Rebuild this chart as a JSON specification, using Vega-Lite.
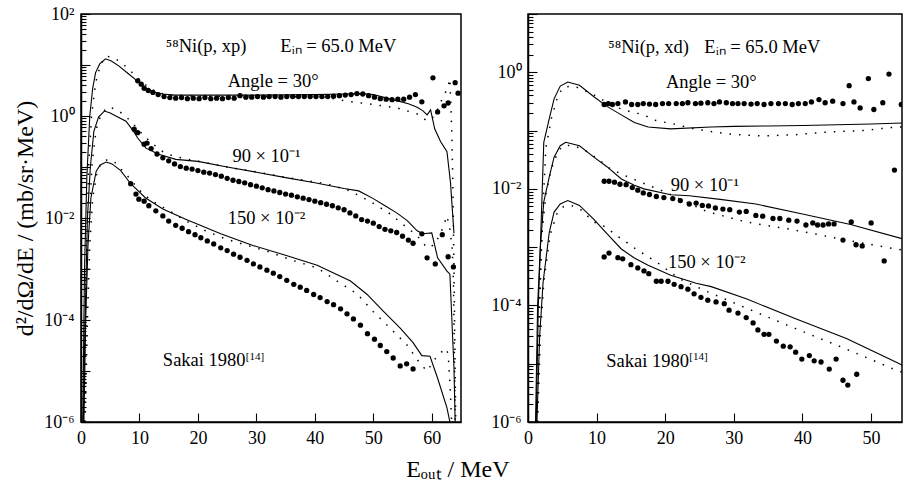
{
"$schema":"https://vega.github.io/schema/vega-lite/v6.json",
"padding":{"left":12,"top":4,"right":0,"bottom":0},
"background":"white",
"config":{"font":"Liberation Serif","view":{"stroke":"black","strokeWidth":1.5},
"axis":{"domainColor":"black","tickColor":"black","labelColor":"black","titleColor":"black","labelFont":"Liberation Serif","titleFont":"Liberation Serif","labelFontSize":18,"titleFontSize":24,"titleFontWeight":"normal","grid":false,"domainWidth":1.5,"tickWidth":1.1,"labelOverlap":false,"labelFlush":false,"labelBound":false},
"title":{"font":"Liberation Serif","fontWeight":"normal","color":"black"}},
"title":{"text":"Eₒᵤₜ / MeV","orient":"bottom","anchor":"middle","fontSize":24,"offset":10},
"spacing":27,
"datasets":{
"L":[
{"a":30,"t":"s","E":0.3,"v":1e-6},{"a":30,"t":"s","E":0.6,"v":1e-3},{"a":30,"t":"s","E":1.0,"v":0.063},{"a":30,"t":"s","E":1.5,"v":1},{"a":30,"t":"s","E":2.0,"v":3.5},{"a":30,"t":"s","E":2.5,"v":7.1},{"a":30,"t":"s","E":3.2,"v":10.5},{"a":30,"t":"s","E":4.2,"v":13.2},{"a":30,"t":"s","E":5.2,"v":12},{"a":30,"t":"s","E":6.5,"v":9.5},{"a":30,"t":"s","E":8,"v":6.9},{"a":30,"t":"s","E":9.5,"v":5.0},{"a":30,"t":"s","E":11,"v":3.6},{"a":30,"t":"s","E":12.5,"v":2.95},{"a":30,"t":"s","E":14,"v":2.7},{"a":30,"t":"s","E":16,"v":2.57},{"a":30,"t":"s","E":20,"v":2.57},{"a":30,"t":"s","E":25,"v":2.57},{"a":30,"t":"s","E":30,"v":2.57},{"a":30,"t":"s","E":35,"v":2.6},{"a":30,"t":"s","E":40,"v":2.63},{"a":30,"t":"s","E":45,"v":2.7},{"a":30,"t":"s","E":48,"v":2.75},{"a":30,"t":"s","E":50,"v":2.63},{"a":30,"t":"s","E":52,"v":2.29},{"a":30,"t":"s","E":54,"v":2.0},{"a":30,"t":"s","E":56,"v":1.74},{"a":30,"t":"s","E":57.5,"v":1.48},{"a":30,"t":"s","E":58.5,"v":1.26},{"a":30,"t":"s","E":59.2,"v":1.05},{"a":30,"t":"s","E":59.8,"v":1.32},{"a":30,"t":"s","E":60.5,"v":0.56},{"a":30,"t":"s","E":61.5,"v":0.316},{"a":30,"t":"s","E":62.6,"v":0.2},{"a":30,"t":"s","E":63.2,"v":0.05},{"a":30,"t":"s","E":63.8,"v":0.005},
{"a":30,"t":"d","E":0.5,"v":1e-6},{"a":30,"t":"d","E":0.9,"v":1e-3},{"a":30,"t":"d","E":1.3,"v":0.1},{"a":30,"t":"d","E":1.8,"v":1.0},{"a":30,"t":"d","E":2.5,"v":4.5},{"a":30,"t":"d","E":3.3,"v":10},{"a":30,"t":"d","E":4.3,"v":15},{"a":30,"t":"d","E":5.5,"v":14},{"a":30,"t":"d","E":7,"v":11},{"a":30,"t":"d","E":8.5,"v":7.6},{"a":30,"t":"d","E":10,"v":5.2},{"a":30,"t":"d","E":11.5,"v":3.7},{"a":30,"t":"d","E":13,"v":2.9},{"a":30,"t":"d","E":15,"v":2.6},{"a":30,"t":"d","E":20,"v":2.45},{"a":30,"t":"d","E":25,"v":2.42},{"a":30,"t":"d","E":30,"v":2.4},{"a":30,"t":"d","E":35,"v":2.4},{"a":30,"t":"d","E":40,"v":2.35},{"a":30,"t":"d","E":42,"v":2.3},{"a":30,"t":"d","E":45.5,"v":1.95},{"a":30,"t":"d","E":49,"v":1.74},{"a":30,"t":"d","E":54,"v":1.45},{"a":30,"t":"d","E":57.5,"v":1.1},{"a":30,"t":"d","E":59.2,"v":0.8},{"a":30,"t":"d","E":60.5,"v":1.0},{"a":30,"t":"d","E":61.8,"v":2.2},{"a":30,"t":"d","E":62.7,"v":3.5},{"a":30,"t":"d","E":63.1,"v":5.4},{"a":30,"t":"d","E":63.4,"v":0.6},{"a":30,"t":"d","E":63.6,"v":0.05},{"a":30,"t":"d","E":63.8,"v":1e-3},{"a":30,"t":"d","E":64,"v":1e-5},{"a":30,"t":"d","E":64.1,"v":1e-6},
{"a":30,"t":"x","E":9.7,"v":4.9},{"a":30,"t":"x","E":10.3,"v":4.2},{"a":30,"t":"x","E":10.8,"v":3.5},{"a":30,"t":"x","E":11.5,"v":3.16},{"a":30,"t":"x","E":12.3,"v":2.9},{"a":30,"t":"x","E":13.2,"v":2.63},{"a":30,"t":"x","E":14.2,"v":2.4},{"a":30,"t":"x","E":15.2,"v":2.3},{"a":30,"t":"x","E":16.2,"v":2.24},{"a":30,"t":"x","E":17.2,"v":2.3},{"a":30,"t":"x","E":18.2,"v":2.19},{"a":30,"t":"x","E":19.2,"v":2.24},{"a":30,"t":"x","E":20.2,"v":2.19},{"a":30,"t":"x","E":21.2,"v":2.3},{"a":30,"t":"x","E":22.2,"v":2.19},{"a":30,"t":"x","E":23.2,"v":2.24},{"a":30,"t":"x","E":24.2,"v":2.19},{"a":30,"t":"x","E":25.2,"v":2.3},{"a":30,"t":"x","E":26.2,"v":2.24},{"a":30,"t":"x","E":27.2,"v":2.5},{"a":30,"t":"x","E":28.2,"v":2.34},{"a":30,"t":"x","E":29.2,"v":2.34},{"a":30,"t":"x","E":30.2,"v":2.4},{"a":30,"t":"x","E":31.2,"v":2.34},{"a":30,"t":"x","E":32.2,"v":2.4},{"a":30,"t":"x","E":33.2,"v":2.4},{"a":30,"t":"x","E":34.2,"v":2.34},{"a":30,"t":"x","E":35.2,"v":2.4},{"a":30,"t":"x","E":36.2,"v":2.4},{"a":30,"t":"x","E":37.2,"v":2.4},{"a":30,"t":"x","E":38.2,"v":2.4},{"a":30,"t":"x","E":39.2,"v":2.4},{"a":30,"t":"x","E":40.2,"v":2.4},{"a":30,"t":"x","E":41.2,"v":2.4},{"a":30,"t":"x","E":42.2,"v":2.4},{"a":30,"t":"x","E":43.2,"v":2.45},{"a":30,"t":"x","E":44.2,"v":2.5},{"a":30,"t":"x","E":45.2,"v":2.57},{"a":30,"t":"x","E":46.2,"v":2.63},{"a":30,"t":"x","E":47.2,"v":2.75},{"a":30,"t":"x","E":48.2,"v":2.7},{"a":30,"t":"x","E":49.2,"v":2.5},{"a":30,"t":"x","E":50.2,"v":2.34},{"a":30,"t":"x","E":51.2,"v":2.19},{"a":30,"t":"x","E":52.2,"v":2.14},{"a":30,"t":"x","E":53.2,"v":2.09},{"a":30,"t":"x","E":54.2,"v":2.14},{"a":30,"t":"x","E":55.2,"v":2.14},{"a":30,"t":"x","E":56.2,"v":2.34},{"a":30,"t":"x","E":57.2,"v":2.63},{"a":30,"t":"x","E":58.3,"v":1.9},{"a":30,"t":"x","E":60.2,"v":5.6},{"a":30,"t":"x","E":61,"v":1.2},{"a":30,"t":"x","E":62.1,"v":1.58},{"a":30,"t":"x","E":62.8,"v":1.8},{"a":30,"t":"x","E":64.0,"v":4.5},{"a":30,"t":"x","E":64.5,"v":2.8},
{"a":90,"t":"s","E":0.4,"v":1e-6},{"a":90,"t":"s","E":0.7,"v":1e-4},{"a":90,"t":"s","E":1.1,"v":0.01},{"a":90,"t":"s","E":1.6,"v":0.1},{"a":90,"t":"s","E":2.2,"v":0.5},{"a":90,"t":"s","E":3.0,"v":0.95},{"a":90,"t":"s","E":4.0,"v":1.25},{"a":90,"t":"s","E":5.0,"v":1.15},{"a":90,"t":"s","E":6.2,"v":0.97},{"a":90,"t":"s","E":7.7,"v":0.79},{"a":90,"t":"s","E":9.0,"v":0.5},{"a":90,"t":"s","E":9.7,"v":0.37},{"a":90,"t":"s","E":11.1,"v":0.234},{"a":90,"t":"s","E":13.3,"v":0.178},{"a":90,"t":"s","E":16.2,"v":0.141},{"a":90,"t":"s","E":20,"v":0.129},{"a":90,"t":"s","E":25,"v":0.1},{"a":90,"t":"s","E":30,"v":0.079},{"a":90,"t":"s","E":35,"v":0.062},{"a":90,"t":"s","E":40,"v":0.049},{"a":90,"t":"s","E":45,"v":0.038},{"a":90,"t":"s","E":47.5,"v":0.034},{"a":90,"t":"s","E":50,"v":0.024},{"a":90,"t":"s","E":52,"v":0.0174},{"a":90,"t":"s","E":54,"v":0.0126},{"a":90,"t":"s","E":55.8,"v":0.0089},{"a":90,"t":"s","E":57.5,"v":0.0056},{"a":90,"t":"s","E":58.5,"v":0.0049},{"a":90,"t":"s","E":60,"v":0.0051},{"a":90,"t":"s","E":61,"v":0.00166},{"a":90,"t":"s","E":62.6,"v":0.00091},{"a":90,"t":"s","E":63.1,"v":0.00079},{"a":90,"t":"s","E":63.8,"v":1.15e-5},{"a":90,"t":"s","E":64,"v":1e-6},
{"a":90,"t":"d","E":0.6,"v":1e-6},{"a":90,"t":"d","E":1.0,"v":1e-3},{"a":90,"t":"d","E":1.4,"v":0.01},{"a":90,"t":"d","E":1.9,"v":0.12},{"a":90,"t":"d","E":2.6,"v":0.55},{"a":90,"t":"d","E":3.4,"v":1.05},{"a":90,"t":"d","E":4.5,"v":1.5},{"a":90,"t":"d","E":5.6,"v":1.4},{"a":90,"t":"d","E":7.2,"v":1.1},{"a":90,"t":"d","E":8.7,"v":0.75},{"a":90,"t":"d","E":10.2,"v":0.48},{"a":90,"t":"d","E":12,"v":0.3},{"a":90,"t":"d","E":14,"v":0.2},{"a":90,"t":"d","E":16,"v":0.16},{"a":90,"t":"d","E":20,"v":0.13},{"a":90,"t":"d","E":25,"v":0.1},{"a":90,"t":"d","E":30,"v":0.08},{"a":90,"t":"d","E":35,"v":0.063},{"a":90,"t":"d","E":42,"v":0.047},{"a":90,"t":"d","E":46,"v":0.034},{"a":90,"t":"d","E":49.5,"v":0.021},{"a":90,"t":"d","E":52.9,"v":0.012},{"a":90,"t":"d","E":55,"v":0.0076},{"a":90,"t":"d","E":57.5,"v":0.0045},{"a":90,"t":"d","E":59.2,"v":0.0026},{"a":90,"t":"d","E":60.5,"v":0.003},{"a":90,"t":"d","E":61.8,"v":0.006},{"a":90,"t":"d","E":62.6,"v":0.011},{"a":90,"t":"d","E":63.1,"v":0.006},{"a":90,"t":"d","E":63.5,"v":0.0025},{"a":90,"t":"d","E":63.7,"v":0.0006},{"a":90,"t":"d","E":63.9,"v":1e-5},{"a":90,"t":"d","E":64,"v":1e-6},
{"a":90,"t":"x","E":9.1,"v":0.55},{"a":90,"t":"x","E":9.7,"v":0.47},{"a":90,"t":"x","E":10.8,"v":0.28},{"a":90,"t":"x","E":11.3,"v":0.295},{"a":90,"t":"x","E":12.0,"v":0.23},{"a":90,"t":"x","E":13.0,"v":0.18},{"a":90,"t":"x","E":14.0,"v":0.151},{"a":90,"t":"x","E":15.0,"v":0.132},{"a":90,"t":"x","E":16.0,"v":0.115},{"a":90,"t":"x","E":17.0,"v":0.102},{"a":90,"t":"x","E":18.0,"v":0.095},{"a":90,"t":"x","E":19.0,"v":0.091},{"a":90,"t":"x","E":20.0,"v":0.085},{"a":90,"t":"x","E":21.0,"v":0.079},{"a":90,"t":"x","E":22.0,"v":0.076},{"a":90,"t":"x","E":23.0,"v":0.071},{"a":90,"t":"x","E":24.0,"v":0.066},{"a":90,"t":"x","E":25.0,"v":0.06},{"a":90,"t":"x","E":26.0,"v":0.055},{"a":90,"t":"x","E":27.0,"v":0.052},{"a":90,"t":"x","E":28.0,"v":0.049},{"a":90,"t":"x","E":29.0,"v":0.045},{"a":90,"t":"x","E":30.0,"v":0.042},{"a":90,"t":"x","E":31.0,"v":0.039},{"a":90,"t":"x","E":32.0,"v":0.036},{"a":90,"t":"x","E":33.0,"v":0.034},{"a":90,"t":"x","E":34.0,"v":0.0316},{"a":90,"t":"x","E":35.0,"v":0.0295},{"a":90,"t":"x","E":36.0,"v":0.028},{"a":90,"t":"x","E":37.0,"v":0.026},{"a":90,"t":"x","E":38.0,"v":0.0245},{"a":90,"t":"x","E":39.0,"v":0.023},{"a":90,"t":"x","E":40.0,"v":0.0214},{"a":90,"t":"x","E":41.0,"v":0.02},{"a":90,"t":"x","E":42.0,"v":0.0186},{"a":90,"t":"x","E":43.0,"v":0.0174},{"a":90,"t":"x","E":44.0,"v":0.0158},{"a":90,"t":"x","E":45.0,"v":0.0145},{"a":90,"t":"x","E":46.0,"v":0.0126},{"a":90,"t":"x","E":47.0,"v":0.011},{"a":90,"t":"x","E":48.0,"v":0.0093},{"a":90,"t":"x","E":49.0,"v":0.0087},{"a":90,"t":"x","E":50.0,"v":0.0079},{"a":90,"t":"x","E":51.0,"v":0.0068},{"a":90,"t":"x","E":52.0,"v":0.006},{"a":90,"t":"x","E":53.0,"v":0.0056},{"a":90,"t":"x","E":54.0,"v":0.0052},{"a":90,"t":"x","E":55.0,"v":0.0044},{"a":90,"t":"x","E":56.0,"v":0.0037},{"a":90,"t":"x","E":56.8,"v":0.0032},{"a":90,"t":"x","E":58.3,"v":0.0049},{"a":90,"t":"x","E":59.2,"v":0.00166},{"a":90,"t":"x","E":60.6,"v":0.00126},{"a":90,"t":"x","E":61.8,"v":0.0047},{"a":90,"t":"x","E":62.8,"v":0.00174},{"a":90,"t":"x","E":63.7,"v":0.0011},
{"a":150,"t":"s","E":0.5,"v":1e-6},{"a":150,"t":"s","E":0.8,"v":1e-4},{"a":150,"t":"s","E":1.2,"v":0.003},{"a":150,"t":"s","E":1.7,"v":0.025},{"a":150,"t":"s","E":2.6,"v":0.083},{"a":150,"t":"s","E":3.3,"v":0.11},{"a":150,"t":"s","E":4.3,"v":0.125},{"a":150,"t":"s","E":5.3,"v":0.115},{"a":150,"t":"s","E":6.8,"v":0.085},{"a":150,"t":"s","E":8.5,"v":0.047},{"a":150,"t":"s","E":11,"v":0.025},{"a":150,"t":"s","E":14,"v":0.015},{"a":150,"t":"s","E":17.9,"v":0.0095},{"a":150,"t":"s","E":23.9,"v":0.0049},{"a":150,"t":"s","E":29.4,"v":0.0029},{"a":150,"t":"s","E":34.7,"v":0.0019},{"a":150,"t":"s","E":40.4,"v":0.00118},{"a":150,"t":"s","E":46.1,"v":0.00058},{"a":150,"t":"s","E":48.9,"v":0.00032},{"a":150,"t":"s","E":51.7,"v":0.00015},{"a":150,"t":"s","E":54.6,"v":6.9e-5},{"a":150,"t":"s","E":56.8,"v":3.6e-5},{"a":150,"t":"s","E":58.3,"v":2.0e-5},{"a":150,"t":"s","E":59.7,"v":1.95e-5},{"a":150,"t":"s","E":61,"v":7.2e-6},{"a":150,"t":"s","E":62.6,"v":1.9e-6},{"a":150,"t":"s","E":63.1,"v":1e-6},
{"a":150,"t":"d","E":0.7,"v":1e-6},{"a":150,"t":"d","E":1.1,"v":1e-4},{"a":150,"t":"d","E":1.5,"v":0.003},{"a":150,"t":"d","E":2.0,"v":0.025},{"a":150,"t":"d","E":2.8,"v":0.085},{"a":150,"t":"d","E":3.6,"v":0.125},{"a":150,"t":"d","E":4.6,"v":0.14},{"a":150,"t":"d","E":5.6,"v":0.13},{"a":150,"t":"d","E":6.3,"v":0.105},{"a":150,"t":"d","E":8,"v":0.066},{"a":150,"t":"d","E":10,"v":0.035},{"a":150,"t":"d","E":12,"v":0.022},{"a":150,"t":"d","E":15,"v":0.014},{"a":150,"t":"d","E":18,"v":0.0087},{"a":150,"t":"d","E":21.3,"v":0.0056},{"a":150,"t":"d","E":24.7,"v":0.0039},{"a":150,"t":"d","E":28,"v":0.003},{"a":150,"t":"d","E":32,"v":0.0022},{"a":150,"t":"d","E":36,"v":0.0015},{"a":150,"t":"d","E":40.4,"v":0.00105},{"a":150,"t":"d","E":43.8,"v":0.00058},{"a":150,"t":"d","E":47.3,"v":0.00032},{"a":150,"t":"d","E":50,"v":0.000145},{"a":150,"t":"d","E":52.9,"v":6.9e-5},{"a":150,"t":"d","E":55.8,"v":3.2e-5},{"a":150,"t":"d","E":58,"v":1.4e-5},{"a":150,"t":"d","E":59.2,"v":1e-5},{"a":150,"t":"d","E":60.7,"v":1.8e-5},{"a":150,"t":"d","E":62.3,"v":2.8e-5},{"a":150,"t":"d","E":62.8,"v":2.2e-5},{"a":150,"t":"d","E":63.1,"v":6e-6},{"a":150,"t":"d","E":63.4,"v":1e-6},
{"a":150,"t":"x","E":8.5,"v":0.047},{"a":150,"t":"x","E":9.4,"v":0.0295},{"a":150,"t":"x","E":9.9,"v":0.0234},{"a":150,"t":"x","E":10.8,"v":0.0214},{"a":150,"t":"x","E":11.6,"v":0.0174},{"a":150,"t":"x","E":12.8,"v":0.0138},{"a":150,"t":"x","E":14,"v":0.011},{"a":150,"t":"x","E":15,"v":0.0087},{"a":150,"t":"x","E":16.2,"v":0.0072},{"a":150,"t":"x","E":17.3,"v":0.0063},{"a":150,"t":"x","E":18.4,"v":0.0054},{"a":150,"t":"x","E":19.5,"v":0.0047},{"a":150,"t":"x","E":20.5,"v":0.0041},{"a":150,"t":"x","E":21.6,"v":0.00355},{"a":150,"t":"x","E":22.7,"v":0.0031},{"a":150,"t":"x","E":23.9,"v":0.0026},{"a":150,"t":"x","E":25,"v":0.0023},{"a":150,"t":"x","E":26.1,"v":0.00195},{"a":150,"t":"x","E":27.2,"v":0.0017},{"a":150,"t":"x","E":28.4,"v":0.00148},{"a":150,"t":"x","E":29.5,"v":0.00126},{"a":150,"t":"x","E":30.6,"v":0.0011},{"a":150,"t":"x","E":31.8,"v":0.00095},{"a":150,"t":"x","E":32.9,"v":0.00083},{"a":150,"t":"x","E":34,"v":0.00071},{"a":150,"t":"x","E":35.2,"v":0.0006},{"a":150,"t":"x","E":36.4,"v":0.0005},{"a":150,"t":"x","E":37.5,"v":0.00044},{"a":150,"t":"x","E":38.6,"v":0.00038},{"a":150,"t":"x","E":39.8,"v":0.000316},{"a":150,"t":"x","E":40.9,"v":0.000275},{"a":150,"t":"x","E":42.1,"v":0.00023},{"a":150,"t":"x","E":43.2,"v":0.0002},{"a":150,"t":"x","E":44.4,"v":0.000166},{"a":150,"t":"x","E":45.5,"v":0.000132},{"a":150,"t":"x","E":46.6,"v":0.000105},{"a":150,"t":"x","E":47.8,"v":7.9e-5},{"a":150,"t":"x","E":49,"v":5.4e-5},{"a":150,"t":"x","E":50.2,"v":4.2e-5},{"a":150,"t":"x","E":51.2,"v":3.16e-5},{"a":150,"t":"x","E":52.3,"v":2.4e-5},{"a":150,"t":"x","E":53.4,"v":1.8e-5},{"a":150,"t":"x","E":54.6,"v":1.26e-5},{"a":150,"t":"x","E":55.7,"v":1.38e-5},{"a":150,"t":"x","E":56.8,"v":1.1e-5}
],
"R":[
{"a":30,"t":"s","E":1.2,"v":1e-6},{"a":30,"t":"s","E":1.5,"v":1e-4},{"a":30,"t":"s","E":1.8,"v":1e-3},{"a":30,"t":"s","E":2.3,"v":0.063},{"a":30,"t":"s","E":3.1,"v":0.16},{"a":30,"t":"s","E":3.8,"v":0.35},{"a":30,"t":"s","E":4.7,"v":0.58},{"a":30,"t":"s","E":5.8,"v":0.68},{"a":30,"t":"s","E":7.5,"v":0.6},{"a":30,"t":"s","E":9.6,"v":0.38},{"a":30,"t":"s","E":11.5,"v":0.26},{"a":30,"t":"s","E":13.6,"v":0.186},{"a":30,"t":"s","E":15.5,"v":0.138},{"a":30,"t":"s","E":17.5,"v":0.115},{"a":30,"t":"s","E":20.8,"v":0.107},{"a":30,"t":"s","E":26.7,"v":0.115},{"a":30,"t":"s","E":30,"v":0.118},{"a":30,"t":"s","E":35,"v":0.12},{"a":30,"t":"s","E":40,"v":0.122},{"a":30,"t":"s","E":45,"v":0.126},{"a":30,"t":"s","E":50,"v":0.13},{"a":30,"t":"s","E":54.5,"v":0.135},
{"a":30,"t":"d","E":1.3,"v":1e-6},{"a":30,"t":"d","E":1.7,"v":1e-4},{"a":30,"t":"d","E":2.1,"v":0.003},{"a":30,"t":"d","E":2.6,"v":0.05},{"a":30,"t":"d","E":3.4,"v":0.16},{"a":30,"t":"d","E":4.4,"v":0.41},{"a":30,"t":"d","E":5.2,"v":0.56},{"a":30,"t":"d","E":6.7,"v":0.58},{"a":30,"t":"d","E":8,"v":0.5},{"a":30,"t":"d","E":9.6,"v":0.41},{"a":30,"t":"d","E":12,"v":0.28},{"a":30,"t":"d","E":14,"v":0.224},{"a":30,"t":"d","E":16.9,"v":0.186},{"a":30,"t":"d","E":18.4,"v":0.151},{"a":30,"t":"d","E":21.3,"v":0.129},{"a":30,"t":"d","E":24.2,"v":0.107},{"a":30,"t":"d","E":25.7,"v":0.1},{"a":30,"t":"d","E":29.3,"v":0.087},{"a":30,"t":"d","E":34.2,"v":0.081},{"a":30,"t":"d","E":39,"v":0.085},{"a":30,"t":"d","E":43.9,"v":0.095},{"a":30,"t":"d","E":48.8,"v":0.1},{"a":30,"t":"d","E":53.6,"v":0.115},{"a":30,"t":"d","E":54.5,"v":0.116},
{"a":30,"t":"x","E":11.1,"v":0.28},{"a":30,"t":"x","E":11.7,"v":0.29},{"a":30,"t":"x","E":12.3,"v":0.28},{"a":30,"t":"x","E":13.1,"v":0.29},{"a":30,"t":"x","E":14.2,"v":0.31},{"a":30,"t":"x","E":15.1,"v":0.28},{"a":30,"t":"x","E":16.0,"v":0.28},{"a":30,"t":"x","E":16.8,"v":0.29},{"a":30,"t":"x","E":17.7,"v":0.285},{"a":30,"t":"x","E":18.6,"v":0.28},{"a":30,"t":"x","E":19.6,"v":0.29},{"a":30,"t":"x","E":20.5,"v":0.29},{"a":30,"t":"x","E":21.6,"v":0.29},{"a":30,"t":"x","E":22.5,"v":0.29},{"a":30,"t":"x","E":23.3,"v":0.3},{"a":30,"t":"x","E":24.4,"v":0.29},{"a":30,"t":"x","E":25.2,"v":0.295},{"a":30,"t":"x","E":26.2,"v":0.3},{"a":30,"t":"x","E":27.1,"v":0.29},{"a":30,"t":"x","E":27.9,"v":0.31},{"a":30,"t":"x","E":28.9,"v":0.3},{"a":30,"t":"x","E":29.8,"v":0.29},{"a":30,"t":"x","E":30.6,"v":0.29},{"a":30,"t":"x","E":31.5,"v":0.29},{"a":30,"t":"x","E":32.5,"v":0.285},{"a":30,"t":"x","E":33.4,"v":0.29},{"a":30,"t":"x","E":34.4,"v":0.28},{"a":30,"t":"x","E":35.4,"v":0.29},{"a":30,"t":"x","E":36.5,"v":0.29},{"a":30,"t":"x","E":37.5,"v":0.29},{"a":30,"t":"x","E":38.5,"v":0.28},{"a":30,"t":"x","E":39.4,"v":0.29},{"a":30,"t":"x","E":40.4,"v":0.29},{"a":30,"t":"x","E":41.3,"v":0.31},{"a":30,"t":"x","E":42.4,"v":0.34},{"a":30,"t":"x","E":43.3,"v":0.3},{"a":30,"t":"x","E":44.4,"v":0.32},{"a":30,"t":"x","E":45.9,"v":0.29},{"a":30,"t":"x","E":46.8,"v":0.59},{"a":30,"t":"x","E":47.5,"v":0.31},{"a":30,"t":"x","E":48.4,"v":0.245},{"a":30,"t":"x","E":49.6,"v":0.78},{"a":30,"t":"x","E":50.4,"v":0.23},{"a":30,"t":"x","E":51.7,"v":0.3},{"a":30,"t":"x","E":52.6,"v":0.93},{"a":30,"t":"x","E":54.4,"v":0.28},
{"a":90,"t":"s","E":1.1,"v":1e-6},{"a":90,"t":"s","E":1.4,"v":1e-4},{"a":90,"t":"s","E":1.8,"v":1e-3},{"a":90,"t":"s","E":2.3,"v":0.006},{"a":90,"t":"s","E":3.1,"v":0.016},{"a":90,"t":"s","E":3.8,"v":0.035},{"a":90,"t":"s","E":4.7,"v":0.055},{"a":90,"t":"s","E":5.5,"v":0.063},{"a":90,"t":"s","E":7.5,"v":0.055},{"a":90,"t":"s","E":9.6,"v":0.035},{"a":90,"t":"s","E":11.5,"v":0.024},{"a":90,"t":"s","E":13.6,"v":0.0148},{"a":90,"t":"s","E":15.5,"v":0.0115},{"a":90,"t":"s","E":16.9,"v":0.01},{"a":90,"t":"s","E":20.8,"v":0.0079},{"a":90,"t":"s","E":23.5,"v":0.0076},{"a":90,"t":"s","E":28,"v":0.0066},{"a":90,"t":"s","E":33.2,"v":0.0055},{"a":90,"t":"s","E":40,"v":0.0037},{"a":90,"t":"s","E":47,"v":0.00245},{"a":90,"t":"s","E":54.5,"v":0.0014},
{"a":90,"t":"d","E":1.2,"v":1e-6},{"a":90,"t":"d","E":1.6,"v":1e-4},{"a":90,"t":"d","E":2.0,"v":0.0015},{"a":90,"t":"d","E":2.6,"v":0.008},{"a":90,"t":"d","E":3.4,"v":0.022},{"a":90,"t":"d","E":4.4,"v":0.045},{"a":90,"t":"d","E":5.2,"v":0.055},{"a":90,"t":"d","E":6.5,"v":0.056},{"a":90,"t":"d","E":8,"v":0.048},{"a":90,"t":"d","E":10.3,"v":0.032},{"a":90,"t":"d","E":12,"v":0.022},{"a":90,"t":"d","E":13.8,"v":0.0175},{"a":90,"t":"d","E":16.8,"v":0.0125},{"a":90,"t":"d","E":20,"v":0.0088},{"a":90,"t":"d","E":23,"v":0.006},{"a":90,"t":"d","E":26,"v":0.0041},{"a":90,"t":"d","E":31.8,"v":0.0027},{"a":90,"t":"d","E":39,"v":0.00195},{"a":90,"t":"d","E":46.4,"v":0.00132},{"a":90,"t":"d","E":53.6,"v":0.00093},{"a":90,"t":"d","E":54.5,"v":0.0009},
{"a":90,"t":"x","E":11.1,"v":0.0135},{"a":90,"t":"x","E":11.8,"v":0.0135},{"a":90,"t":"x","E":12.6,"v":0.013},{"a":90,"t":"x","E":13.4,"v":0.012},{"a":90,"t":"x","E":14.3,"v":0.0118},{"a":90,"t":"x","E":15.2,"v":0.0105},{"a":90,"t":"x","E":16,"v":0.0095},{"a":90,"t":"x","E":16.8,"v":0.0085},{"a":90,"t":"x","E":17.7,"v":0.008},{"a":90,"t":"x","E":18.7,"v":0.0074},{"a":90,"t":"x","E":19.8,"v":0.0071},{"a":90,"t":"x","E":21.1,"v":0.0068},{"a":90,"t":"x","E":22.2,"v":0.0063},{"a":90,"t":"x","E":23.5,"v":0.0055},{"a":90,"t":"x","E":24.5,"v":0.0057},{"a":90,"t":"x","E":25.4,"v":0.0052},{"a":90,"t":"x","E":26.3,"v":0.0051},{"a":90,"t":"x","E":27.3,"v":0.0047},{"a":90,"t":"x","E":28.4,"v":0.0045},{"a":90,"t":"x","E":29.4,"v":0.0044},{"a":90,"t":"x","E":30.8,"v":0.004},{"a":90,"t":"x","E":31.8,"v":0.0041},{"a":90,"t":"x","E":33.2,"v":0.0035},{"a":90,"t":"x","E":34.2,"v":0.0034},{"a":90,"t":"x","E":35.7,"v":0.0031},{"a":90,"t":"x","E":36.7,"v":0.0031},{"a":90,"t":"x","E":38,"v":0.0029},{"a":90,"t":"x","E":39.2,"v":0.0028},{"a":90,"t":"x","E":40.5,"v":0.0024},{"a":90,"t":"x","E":41.5,"v":0.0026},{"a":90,"t":"x","E":42.2,"v":0.0024},{"a":90,"t":"x","E":43,"v":0.0024},{"a":90,"t":"x","E":43.8,"v":0.0025},{"a":90,"t":"x","E":44.6,"v":0.0025},{"a":90,"t":"x","E":45.9,"v":0.00132},{"a":90,"t":"x","E":47.1,"v":0.0027},{"a":90,"t":"x","E":47.8,"v":0.0011},{"a":90,"t":"x","E":48.7,"v":0.00105},{"a":90,"t":"x","E":50,"v":0.0026},{"a":90,"t":"x","E":51.9,"v":0.00058},{"a":90,"t":"x","E":53.4,"v":0.021},
{"a":150,"t":"s","E":1.3,"v":1e-6},{"a":150,"t":"s","E":1.7,"v":3e-5},{"a":150,"t":"s","E":2.2,"v":0.00025},{"a":150,"t":"s","E":3.1,"v":0.0018},{"a":150,"t":"s","E":3.8,"v":0.004},{"a":150,"t":"s","E":4.7,"v":0.0055},{"a":150,"t":"s","E":5.8,"v":0.0063},{"a":150,"t":"s","E":7.5,"v":0.0052},{"a":150,"t":"s","E":9.6,"v":0.003},{"a":150,"t":"s","E":11.5,"v":0.0017},{"a":150,"t":"s","E":13.6,"v":0.00093},{"a":150,"t":"s","E":15.5,"v":0.00065},{"a":150,"t":"s","E":17.5,"v":0.00049},{"a":150,"t":"s","E":20.8,"v":0.00033},{"a":150,"t":"s","E":24.5,"v":0.00024},{"a":150,"t":"s","E":26.7,"v":0.00021},{"a":150,"t":"s","E":31.8,"v":0.00013},{"a":150,"t":"s","E":39,"v":5.9e-5},{"a":150,"t":"s","E":46.4,"v":2.7e-5},{"a":150,"t":"s","E":53.6,"v":1.07e-5},{"a":150,"t":"s","E":54.5,"v":9.5e-6},
{"a":150,"t":"d","E":1.4,"v":1e-6},{"a":150,"t":"d","E":1.8,"v":3e-5},{"a":150,"t":"d","E":2.3,"v":0.00025},{"a":150,"t":"d","E":3.2,"v":0.0016},{"a":150,"t":"d","E":4.2,"v":0.0037},{"a":150,"t":"d","E":5.2,"v":0.005},{"a":150,"t":"d","E":6.3,"v":0.0052},{"a":150,"t":"d","E":7.8,"v":0.0043},{"a":150,"t":"d","E":9.6,"v":0.0027},{"a":150,"t":"d","E":11.4,"v":0.0022},{"a":150,"t":"d","E":12.8,"v":0.0016},{"a":150,"t":"d","E":14.3,"v":0.00123},{"a":150,"t":"d","E":15.7,"v":0.00093},{"a":150,"t":"d","E":17.2,"v":0.00072},{"a":150,"t":"d","E":18.7,"v":0.00056},{"a":150,"t":"d","E":22,"v":0.00029},{"a":150,"t":"d","E":26,"v":0.000175},{"a":150,"t":"d","E":31.8,"v":9e-5},{"a":150,"t":"d","E":39,"v":4e-5},{"a":150,"t":"d","E":46.4,"v":1.78e-5},{"a":150,"t":"d","E":53.6,"v":7.8e-6},{"a":150,"t":"d","E":54.5,"v":7.2e-6},
{"a":150,"t":"x","E":11.1,"v":0.00068},{"a":150,"t":"x","E":11.8,"v":0.00079},{"a":150,"t":"x","E":13.1,"v":0.00066},{"a":150,"t":"x","E":13.8,"v":0.00063},{"a":150,"t":"x","E":15,"v":0.0005},{"a":150,"t":"x","E":16,"v":0.00044},{"a":150,"t":"x","E":16.9,"v":0.00039},{"a":150,"t":"x","E":17.6,"v":0.00035},{"a":150,"t":"x","E":18.7,"v":0.00026},{"a":150,"t":"x","E":19.4,"v":0.00026},{"a":150,"t":"x","E":20.4,"v":0.00026},{"a":150,"t":"x","E":21.3,"v":0.00023},{"a":150,"t":"x","E":22.3,"v":0.00021},{"a":150,"t":"x","E":23.3,"v":0.00019},{"a":150,"t":"x","E":24.2,"v":0.000158},{"a":150,"t":"x","E":25.2,"v":0.000138},{"a":150,"t":"x","E":26.2,"v":0.000123},{"a":150,"t":"x","E":27.4,"v":0.000115},{"a":150,"t":"x","E":28.6,"v":0.000107},{"a":150,"t":"x","E":29.3,"v":8.3e-5},{"a":150,"t":"x","E":30.6,"v":7.4e-5},{"a":150,"t":"x","E":31.8,"v":6.2e-5},{"a":150,"t":"x","E":32.8,"v":5e-5},{"a":150,"t":"x","E":33.5,"v":3.8e-5},{"a":150,"t":"x","E":34.4,"v":3.2e-5},{"a":150,"t":"x","E":35.1,"v":3.2e-5},{"a":150,"t":"x","E":36.2,"v":2.45e-5},{"a":150,"t":"x","E":37.2,"v":2e-5},{"a":150,"t":"x","E":38.2,"v":1.95e-5},{"a":150,"t":"x","E":39,"v":1.58e-5},{"a":150,"t":"x","E":39.9,"v":1.2e-5},{"a":150,"t":"x","E":41,"v":1.38e-5},{"a":150,"t":"x","E":41.7,"v":1.12e-5},{"a":150,"t":"x","E":42.7,"v":1.07e-5},{"a":150,"t":"x","E":43.9,"v":8.1e-6},{"a":150,"t":"x","E":44.9,"v":1.2e-5},{"a":150,"t":"x","E":45.9,"v":5.2e-6},{"a":150,"t":"x","E":46.6,"v":4.3e-6},{"a":150,"t":"x","E":47.9,"v":6.6e-6}
],
"LT":[
{"k":"m","E":14.5,"v":23.5,"label":"⁵⁸Ni(p, xp)"},{"k":"m","E":34.1,"v":23.5,"label":"Eᵢₙ = 65.0 MeV"},{"k":"m","E":25.1,"v":4.9,"label":"Angle = 30°"},{"k":"m","E":25.9,"v":0.165,"label":"90 × 10⁻¹"},{"k":"m","E":25.1,"v":0.01,"label":"150 × 10⁻²"},{"k":"m","E":14,"v":1.65e-5,"label":"Sakai 1980"},{"k":"s","E":28.2,"v":1.9e-5,"label":"[14]"}
],
"RT":[
{"k":"m","E":11.7,"v":2.7,"label":"⁵⁸Ni(p, xd)"},{"k":"m","E":25.7,"v":2.7,"label":"Eᵢₙ = 65.0 MeV"},{"k":"m","E":20.1,"v":0.68,"label":"Angle = 30°"},{"k":"m","E":20.8,"v":0.0117,"label":"90 × 10⁻¹"},{"k":"m","E":20.4,"v":0.00056,"label":"150 × 10⁻²"},{"k":"m","E":11.4,"v":1.12e-5,"label":"Sakai 1980"},{"k":"s","E":23.5,"v":1.3e-5,"label":"[14]"}
]
},
"hconcat":[
{"width":380,"height":408,
"layer":[
{"data":{"name":"L"},"transform":[{"filter":"datum.t==='s'"}],"mark":{"type":"line","color":"black","strokeWidth":1.1,"clip":true},
"encoding":{
"x":{"field":"E","type":"quantitative","scale":{"domain":[0,65],"nice":false,"zero":false},"axis":{"values":[0,5,10,15,20,25,30,35,40,45,50,55,60,65],"labelExpr":"datum.value % 10 === 0 ? datum.label : ''","tickSize":{"condition":{"test":"datum.value % 10 === 0","value":-9},"value":-5},"labelPadding":16,"title":null}},
"y":{"field":"v","type":"quantitative","scale":{"type":"log","domain":[1e-6,100],"nice":false},"axis":{"values":[1e-6,2e-6,3e-6,4e-6,5e-6,6e-6,7e-6,8e-6,9e-6,1e-5,2e-5,3e-5,4e-5,5e-5,6e-5,7e-5,8e-5,9e-5,1e-4,2e-4,3e-4,4e-4,5e-4,6e-4,7e-4,8e-4,9e-4,1e-3,2e-3,3e-3,4e-3,5e-3,6e-3,7e-3,8e-3,9e-3,0.01,0.02,0.03,0.04,0.05,0.06,0.07,0.08,0.09,0.1,0.2,0.3,0.4,0.5,0.6,0.7,0.8,0.9,1,2,3,4,5,6,7,8,9,10,20,30,40,50,60,70,80,90,100],
"labelExpr":"datum.value===100?'10²':datum.value===1?'10⁰':datum.value===0.01?'10⁻²':datum.value===1e-4?'10⁻⁴':datum.value===1e-6?'10⁻⁶':''",
"tickSize":{"condition":{"test":"indexof([1e-6,1e-5,1e-4,1e-3,0.01,0.1,1,10,100],datum.value)>=0","value":-9},"value":-5},"labelPadding":16,"labelBaseline":"middle",
"title":"d²/dΩ/dE / (mb/sr·MeV)","titlePadding":6}},
"detail":{"field":"a"}}},
{"data":{"name":"L"},"transform":[{"filter":"datum.t==='d'"}],"mark":{"type":"line","color":"black","strokeWidth":1.5,"strokeDash":[1.5,8],"clip":true},
"encoding":{"x":{"field":"E","type":"quantitative"},"y":{"field":"v","type":"quantitative"},"detail":{"field":"a"}}},
{"data":{"name":"L"},"transform":[{"filter":"datum.t==='x'"}],"mark":{"type":"circle","color":"black","size":28,"opacity":1,"clip":true},
"encoding":{"x":{"field":"E","type":"quantitative"},"y":{"field":"v","type":"quantitative"}}},
{"data":{"name":"LT"},"transform":[{"filter":"datum.k==='m'"}],"mark":{"type":"text","align":"left","baseline":"middle","fontSize":18.5,"font":"Liberation Serif","color":"black"},
"encoding":{"x":{"field":"E","type":"quantitative"},"y":{"field":"v","type":"quantitative"},"text":{"field":"label"}}},
{"data":{"name":"LT"},"transform":[{"filter":"datum.k==='s'"}],"mark":{"type":"text","align":"left","baseline":"middle","fontSize":11,"font":"Liberation Serif","color":"black"},
"encoding":{"x":{"field":"E","type":"quantitative"},"y":{"field":"v","type":"quantitative"},"text":{"field":"label"}}}
]},
{"width":374,"height":408,
"layer":[
{"data":{"name":"R"},"transform":[{"filter":"datum.t==='s'"}],"mark":{"type":"line","color":"black","strokeWidth":1.1,"clip":true},
"encoding":{
"x":{"field":"E","type":"quantitative","scale":{"domain":[0,54.5],"nice":false,"zero":false},"axis":{"values":[0,5,10,15,20,25,30,35,40,45,50],"labelExpr":"datum.value % 10 === 0 ? datum.label : ''","tickSize":{"condition":{"test":"datum.value % 10 === 0","value":-9},"value":-5},"labelPadding":16,"title":null}},
"y":{"field":"v","type":"quantitative","scale":{"type":"log","domain":[1e-6,10],"nice":false},"axis":{"values":[1e-6,2e-6,3e-6,4e-6,5e-6,6e-6,7e-6,8e-6,9e-6,1e-5,2e-5,3e-5,4e-5,5e-5,6e-5,7e-5,8e-5,9e-5,1e-4,2e-4,3e-4,4e-4,5e-4,6e-4,7e-4,8e-4,9e-4,1e-3,2e-3,3e-3,4e-3,5e-3,6e-3,7e-3,8e-3,9e-3,0.01,0.02,0.03,0.04,0.05,0.06,0.07,0.08,0.09,0.1,0.2,0.3,0.4,0.5,0.6,0.7,0.8,0.9,1,2,3,4,5,6,7,8,9,10],
"labelExpr":"datum.value===1?'10⁰':datum.value===0.01?'10⁻²':datum.value===1e-4?'10⁻⁴':datum.value===1e-6?'10⁻⁶':''",
"tickSize":{"condition":{"test":"indexof([1e-6,1e-5,1e-4,1e-3,0.01,0.1,1,10],datum.value)>=0","value":-9},"value":-5},"labelPadding":16,"labelBaseline":"middle","title":null}},
"detail":{"field":"a"}}},
{"data":{"name":"R"},"transform":[{"filter":"datum.t==='d'"}],"mark":{"type":"line","color":"black","strokeWidth":1.5,"strokeDash":[1.5,8],"clip":true},
"encoding":{"x":{"field":"E","type":"quantitative"},"y":{"field":"v","type":"quantitative"},"detail":{"field":"a"}}},
{"data":{"name":"R"},"transform":[{"filter":"datum.t==='x'"}],"mark":{"type":"circle","color":"black","size":28,"opacity":1,"clip":true},
"encoding":{"x":{"field":"E","type":"quantitative"},"y":{"field":"v","type":"quantitative"}}},
{"data":{"name":"RT"},"transform":[{"filter":"datum.k==='m'"}],"mark":{"type":"text","align":"left","baseline":"middle","fontSize":18.5,"font":"Liberation Serif","color":"black"},
"encoding":{"x":{"field":"E","type":"quantitative"},"y":{"field":"v","type":"quantitative"},"text":{"field":"label"}}},
{"data":{"name":"RT"},"transform":[{"filter":"datum.k==='s'"}],"mark":{"type":"text","align":"left","baseline":"middle","fontSize":11,"font":"Liberation Serif","color":"black"},
"encoding":{"x":{"field":"E","type":"quantitative"},"y":{"field":"v","type":"quantitative"},"text":{"field":"label"}}}
]}
]
}
